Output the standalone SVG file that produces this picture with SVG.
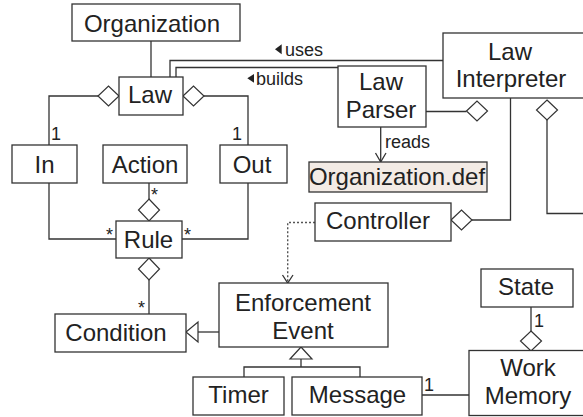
<svg xmlns="http://www.w3.org/2000/svg" width="583" height="417" viewBox="0 0 583 417">
<style>
.box{fill:#fff;stroke:#333;stroke-width:1.3}
.file{fill:#f3ebe5;stroke:#333;stroke-width:1.3}
.t{font-family:"Liberation Sans",Arial,sans-serif;font-size:24px;fill:#222;text-anchor:middle}
.s{font-family:"Liberation Sans",Arial,sans-serif;font-size:18px;fill:#222}
.ln{fill:none;stroke:#333;stroke-width:1.3}
.dia{fill:#fff;stroke:#333;stroke-width:1.2}
.dot{fill:none;stroke:#555;stroke-width:1.4;stroke-dasharray:2,2}
.tri{fill:#222;stroke:none}
</style>
<rect width="583" height="417" fill="#fff"/>
<g id="connectors">
  <path class="ln" d="M151 41V77"/>
  <path class="ln" d="M98 96H49V145"/>
  <polygon class="dia" points="119,96 108.5,86 98,96 108.5,106"/>
  <path class="ln" d="M204 96H248V145"/>
  <polygon class="dia" points="183,96 193.5,86 204,96 193.5,106"/>
  <path class="ln" d="M49 183V239H116"/>
  <path class="ln" d="M248 183V239H182"/>
  <path class="ln" d="M149 183V199"/>
  <polygon class="dia" points="149,199 159.5,210 149,221 138.5,210"/>
  <polygon class="dia" points="149,258 159.5,269 149,280 138.5,269"/>
  <path class="ln" d="M149 280V314"/>
  <path class="ln" d="M198 332H219"/>
  <polygon class="dia" points="186,332 198,322 198,342"/>
  <path class="ln" d="M301 359V367M244 377V367H360V377"/>
  <polygon class="dia" points="301,347 290,359 312,359"/>
  <path class="ln" d="M422 395H469"/>
  <path class="ln" d="M531 307V331"/>
  <polygon class="dia" points="531,331 541.5,341 531,351 520.5,341"/>
  <path class="ln" d="M170 77V60.5H443"/>
  <path class="ln" d="M176 77V67.5H338"/>
  <path class="ln" d="M426 111.5H466.5"/>
  <polygon class="dia" points="466.5,111 477,101 487.5,111 477,121"/>
  <path class="ln" d="M472 220H510.5V98"/>
  <polygon class="dia" points="451,220 461.5,210 472,220 461.5,230"/>
  <path class="ln" d="M547 120V213.5H590"/>
  <polygon class="dia" points="547,100 557.5,110 547,120 536.5,110"/>
  <path class="ln" d="M380.7 127V161.5"/>
  <polyline class="ln" points="375.5,153 380.7,162 386,153"/>
  <path class="dot" d="M315 222.5H287.7V282"/>
  <polyline class="ln" points="282.5,275 287.7,283 293,275"/>
  <polygon class="tri" points="275,49.3 281.7,44.3 281.7,54.3"/>
  <text class="s" x="285" y="56">uses</text>
  <polygon class="tri" points="247.3,78.3 254,74 254,82.7"/>
  <text class="s" x="256" y="85">builds</text>
  <text class="s" x="385" y="148">reads</text>
  <text class="s" x="51" y="140">1</text>
  <text class="s" x="242" y="140" text-anchor="end">1</text>
  <text class="s" x="151" y="201">*</text>
  <text class="s" x="113" y="240.5" text-anchor="end">*</text>
  <text class="s" x="184" y="240.5">*</text>
  <text class="s" x="145" y="314" text-anchor="end">*</text>
  <text class="s" x="534" y="327">1</text>
  <text class="s" x="424" y="391">1</text>
</g>
<g id="organization"><rect class="box" x="72" y="4" width="168" height="37"/><text class="t" x="152" y="32">Organization</text></g>
<g id="law"><rect class="box" x="119" y="77" width="64" height="38"/><text class="t" x="150" y="103">Law</text></g>
<g id="in"><rect class="box" x="12" y="145" width="65" height="38"/><text class="t" x="44.5" y="173">In</text></g>
<g id="action"><rect class="box" x="103" y="145" width="84" height="38"/><text class="t" x="145" y="173">Action</text></g>
<g id="out"><rect class="box" x="220" y="145" width="67" height="38"/><text class="t" x="252" y="173">Out</text></g>
<g id="rule"><rect class="box" x="116" y="221" width="66" height="37"/><text class="t" x="148.5" y="248">Rule</text></g>
<g id="condition"><rect class="box" x="55" y="314" width="131" height="38"/><text class="t" x="116" y="341">Condition</text></g>
<g id="enforcement-event"><rect class="box" x="219" y="283" width="169" height="64"/><text class="t" x="303" y="311">Enforcement</text><text class="t" x="303" y="339">Event</text></g>
<g id="timer"><rect class="box" x="193" y="377" width="91" height="38"/><text class="t" x="238.5" y="403">Timer</text></g>
<g id="message"><rect class="box" x="292" y="377" width="130" height="38"/><text class="t" x="357.5" y="403">Message</text></g>
<g id="state"><rect class="box" x="481" y="269" width="92" height="38"/><text class="t" x="526" y="295">State</text></g>
<g id="work-memory"><rect class="box" x="469" y="350.5" width="130" height="65"/><text class="t" x="528" y="376">Work</text><text class="t" x="528" y="404">Memory</text></g>
<g id="law-interpreter"><rect class="box" x="443" y="33" width="150" height="65"/><text class="t" x="510" y="60">Law</text><text class="t" x="511" y="87">Interpreter</text></g>
<g id="law-parser"><rect class="box" x="338" y="66" width="88" height="61"/><text class="t" x="381" y="90">Law</text><text class="t" x="381" y="118">Parser</text></g>
<g id="organization-def"><rect class="file" x="309" y="162" width="178" height="30"/><text class="t" x="397" y="185">Organization.def</text></g>
<g id="controller"><rect class="box" x="315" y="203" width="136" height="38"/><text class="t" x="378" y="229">Controller</text></g>
</svg>
